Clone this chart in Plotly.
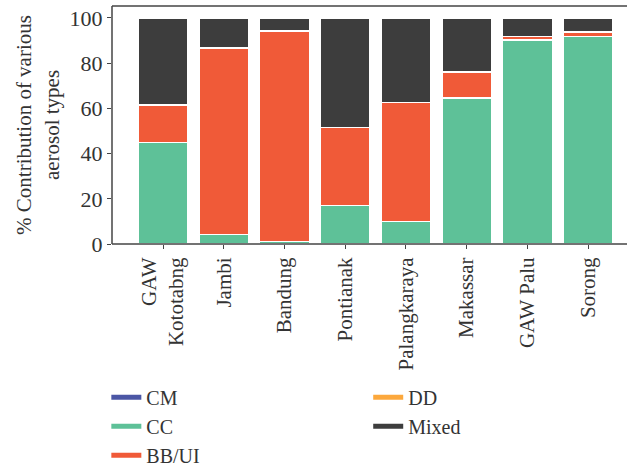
import plotly.graph_objects as go

# Sites and per-type contribution (%) of aerosol classes
sites = ["GAW<br>Kototabng", "Jambi", "Bandung", "Pontianak", "Palangkaraya",
         "Makassar", "GAW Palu", "Sorong"]
cm = [0, 0, 0, 0, 0, 0, 0, 0]
cc = [44.9, 4.3, 1.2, 17.1, 10.0, 64.5, 90.3, 91.9]
bb_ui = [16.7, 82.5, 93.1, 34.4, 52.6, 11.5, 1.6, 1.9]
dd = [0, 0, 0, 0, 0, 0, 0, 0]
mixed = [38.4, 13.2, 5.7, 48.5, 37.4, 24.0, 8.1, 6.2]
y_ticks = [0, 20, 40, 60, 80, 100]

series = [
    ("CM", cm, "#4b56a5", "legend"),
    ("CC", cc, "#5ec198", "legend"),
    ("BB/UI", bb_ui, "#f05a38", "legend"),
    ("DD", dd, "#fca83c", "legend2"),
    ("Mixed", mixed, "#3d3d3d", "legend2"),
]

font_family = "Liberation Serif, Times New Roman, serif"
axis_color = "#444444"
text_color = "#333333"
fig = go.Figure()

for name, vals, color, _ in series:
    fig.add_trace(go.Bar(
        x=sites, y=vals, name=name, marker_color=color,
        marker_line_color="white", marker_line_width=1.5,
        showlegend=False,
    ))

# Legend entries drawn as short thick strokes
for name, _, color, leg in series:
    fig.add_trace(go.Scatter(
        x=[None], y=[None], mode="lines", name=name,
        line=dict(color=color, width=5), legend=leg,
    ))

legend_style = dict(yanchor="top", xanchor="left", y=-0.562,
                    font=dict(size=20, color=text_color),
                    itemwidth=30, tracegroupgap=0, traceorder="normal",
                    bgcolor="rgba(0,0,0,0)")

# Frame: left axis, bottom axis and a top border (open on the right)
frame_line = dict(color=axis_color, width=1.5)
frame = [
    dict(type="line", xref="paper", yref="paper", x0=0, x1=1, y0=1, y1=1, line=frame_line),
    dict(type="line", xref="paper", yref="paper", x0=0, x1=1, y0=0, y1=0, line=frame_line),
    dict(type="line", xref="paper", yref="paper", x0=0, x1=0, y0=0, y1=1, line=frame_line),
]

fig.update_layout(
    barmode="stack",
    bargap=0.18,
    width=627, height=468,
    margin=dict(l=112, r=0, t=6, b=224, autoexpand=False),
    plot_bgcolor="white", paper_bgcolor="white",
    font=dict(family=font_family, size=20, color=text_color),
    legend=dict(x=-0.011, **legend_style),
    legend2=dict(x=0.4975, **legend_style),
    shapes=frame,
)

fig.update_xaxes(
    range=[-0.84, 7.64], tickangle=-90, automargin=False,
    showline=False, ticks="outside", ticklen=4, tickcolor=axis_color,
    showgrid=False, tickfont=dict(size=21, color=text_color),
)
fig.update_yaxes(
    range=[0, 105.3], tickvals=y_ticks, automargin=False,
    showline=False, ticks="outside", ticklen=4, tickcolor=axis_color,
    showgrid=False, zeroline=False,
    tickfont=dict(size=22, color=text_color),
    title=dict(text="% Contribution of various<br>aerosol types",
               font=dict(size=21, color=text_color), standoff=4),
)

fig.write_html("out.html")
